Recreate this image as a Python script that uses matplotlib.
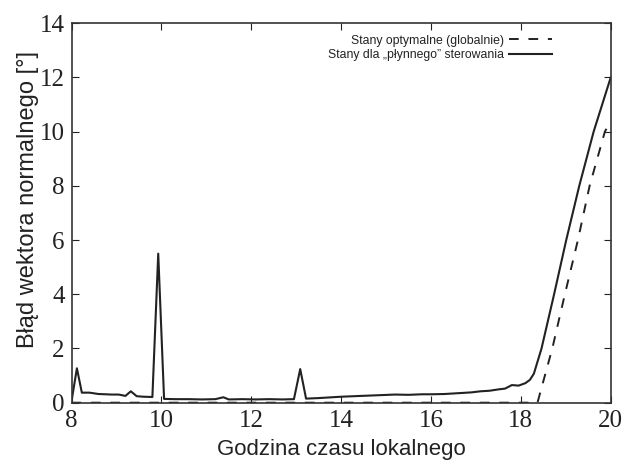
import matplotlib
matplotlib.use("Agg")
import matplotlib.pyplot as plt

# godzina czasu lokalnego / blad wektora normalnego [deg]
hours_smooth = [8.0, 8.12, 8.23, 8.4, 8.6, 8.9, 9.05, 9.2, 9.32, 9.45, 9.6, 9.8,
                9.93, 10.06, 10.3, 10.6, 10.9, 11.2, 11.38, 11.5, 11.8, 12.1, 12.4,
                12.7, 12.95, 13.09, 13.22, 13.5, 13.8, 14.0, 14.3, 14.6, 14.9, 15.2,
                15.5, 15.8, 16.0, 16.3, 16.6, 16.9, 17.1, 17.3, 17.5, 17.65, 17.8,
                17.95, 18.1, 18.2, 18.29, 18.46, 18.74, 19.01, 19.3, 19.62, 20.0]
err_smooth = [0.05, 1.27, 0.37, 0.37, 0.32, 0.3, 0.3, 0.25, 0.42, 0.24, 0.22, 0.21,
              5.5, 0.14, 0.13, 0.13, 0.12, 0.13, 0.2, 0.12, 0.13, 0.12, 0.13,
              0.12, 0.13, 1.24, 0.15, 0.17, 0.2, 0.22, 0.24, 0.26, 0.28, 0.3,
              0.29, 0.31, 0.31, 0.32, 0.35, 0.38, 0.42, 0.44, 0.49, 0.52, 0.65,
              0.63, 0.72, 0.84, 1.07, 2.0, 4.0, 6.0, 8.0, 10.0, 12.0]

hours_opt = [8.0, 18.37, 18.70, 18.98, 19.27, 19.53, 19.87, 20.0]
err_opt = [0.0, 0.0, 2.0, 4.0, 6.0, 8.0, 10.0, 10.4]

xticks = [8, 10, 12, 14, 16, 18, 20]
yticks = [0, 2, 4, 6, 8, 10, 12, 14]

fig = plt.figure(figsize=(6.24, 4.61), dpi=100)
ax = fig.add_axes([0.1146, 0.1265, 0.8641, 0.823])

ax.plot(hours_opt, err_opt, color="#222222", lw=1.4, dashes=(5, 5),
        label="Stany optymalne (globalnie)")
ax.plot(hours_smooth, err_smooth, color="#222222", lw=1.5,
        label="Stany dla \u201ep\u0142ynnego\u201d sterowania")

ax.set_xlim(8, 20)
ax.set_ylim(0, 14)
ax.set_xticks(xticks)
ax.set_yticks(yticks)
ax.tick_params(direction="in", top=True, right=True, length=5, width=0.8,
               labelsize=18, pad=5, colors="#222222")
for lab in ax.get_xticklabels() + ax.get_yticklabels():
    lab.set_family("Liberation Serif")
for sp in ax.spines.values():
    sp.set_linewidth(1.2)
    sp.set_color("#333333")

ax.set_xlabel("Godzina czasu lokalnego", family="Liberation Sans", fontsize=16,
              color="#222222", labelpad=5)
ax.set_ylabel("B\u0142\u0105d wektora normalnego [\u00b0]", family="Liberation Sans",
              fontsize=17, color="#222222")
ax.yaxis.set_label_coords(-0.061, 0.535)

leg = ax.legend(loc="upper right", bbox_to_anchor=(0.891, 0.97), frameon=False,
                markerfirst=False, prop={"family": "Liberation Sans", "size": 8.8},
                handlelength=3.5, handletextpad=0.4, labelspacing=0.2,
                borderpad=0, borderaxespad=0)
for t in leg.get_texts():
    t.set_color("#222222")

fig.savefig("out.png", dpi=100)
